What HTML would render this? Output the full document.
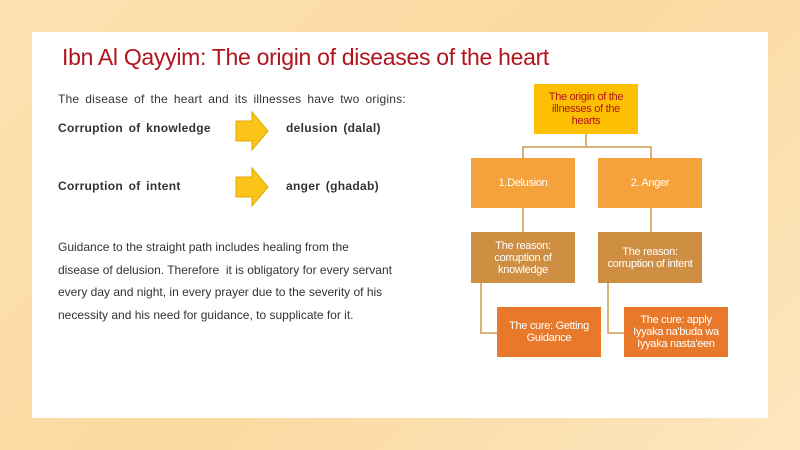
<!DOCTYPE html>
<html><head><style>
body{margin:0;width:800px;height:450px;overflow:hidden;background:linear-gradient(135deg,#fde2b0,#fbd9a0 50%,#fde6bf);font-family:"Liberation Sans",sans-serif;position:relative}
.panel{position:absolute;left:32px;top:32px;width:736px;height:386px;background:#fff}
.t{position:absolute;white-space:nowrap}
.bd{font-size:12px;font-weight:bold;color:#333;letter-spacing:0.3px;word-spacing:2px}
.b{position:absolute;display:flex;align-items:center;justify-content:center;text-align:center;font-size:11px;line-height:12px;color:#fff;letter-spacing:-0.3px}
.l{position:absolute;background:#d9b27a}
.arr{position:absolute;width:34px;height:40px}
</style></head><body>
<div class="panel"></div>
<div class="t" style="left:62px;top:44px;font-size:23px;color:#b0141c;letter-spacing:-0.3px">Ibn Al Qayyim: The origin of diseases of the heart</div>
<div class="t" style="left:58px;top:92px;font-size:12px;color:#333;letter-spacing:0.2px;word-spacing:2.5px">The disease of the heart and its illnesses have two origins:</div>
<div class="t bd" style="left:58px;top:121px">Corruption of knowledge</div>
<div class="t bd" style="left:286px;top:121px">delusion (dalal)</div>
<div class="t bd" style="left:58px;top:179px">Corruption of intent</div>
<div class="t bd" style="left:286px;top:179px">anger (ghadab)</div>
<svg class="arr" style="left:235px;top:111px" viewBox="0 0 34 40"><polygon points="1,10 17,10 17,1 33,20 17,39 17,30 1,30" fill="#fcc419" stroke="#e0a800"/></svg>
<svg class="arr" style="left:235px;top:167px" viewBox="0 0 34 40"><polygon points="1,10 17,10 17,1 33,20 17,39 17,30 1,30" fill="#fcc419" stroke="#e0a800"/></svg>
<div class="t" style="left:58px;top:236px;font-size:12px;line-height:22.5px;color:#333">Guidance to the straight path includes healing from the<br>disease of delusion. Therefore &nbsp;it is obligatory for every servant<br>every day and night, in every prayer due to the severity of his<br>necessity and his need for guidance, to supplicate for it.</div>

<div class="l" style="left:585px;top:134px;width:2px;height:13px"></div>
<div class="l" style="left:522px;top:146px;width:130px;height:2px"></div>
<div class="l" style="left:522px;top:146px;width:2px;height:12px"></div>
<div class="l" style="left:650px;top:146px;width:2px;height:12px"></div>
<div class="l" style="left:522px;top:208px;width:2px;height:24px"></div>
<div class="l" style="left:650px;top:208px;width:2px;height:24px"></div>
<div class="l" style="left:480px;top:283px;width:2px;height:51px"></div>
<div class="l" style="left:480px;top:332px;width:18px;height:2px"></div>
<div class="l" style="left:607px;top:283px;width:2px;height:51px"></div>
<div class="l" style="left:607px;top:332px;width:18px;height:2px"></div>

<div class="b" style="left:534px;top:84px;width:104px;height:50px;background:#fcc000;color:#b0141c">The origin of the<br>illnesses of the<br>hearts</div>
<div class="b" style="left:471px;top:158px;width:104px;height:50px;background:#f4a23c">1.Delusion</div>
<div class="b" style="left:598px;top:158px;width:104px;height:50px;background:#f4a23c">2. Anger</div>
<div class="b" style="left:471px;top:232px;width:104px;height:51px;background:#cf8f42">The reason:<br>corruption of<br>knowledge</div>
<div class="b" style="left:598px;top:232px;width:104px;height:51px;background:#cf8f42">The reason:<br>corruption of intent</div>
<div class="b" style="left:497px;top:307px;width:104px;height:50px;background:#e8792a">The cure: Getting<br>Guidance</div>
<div class="b" style="left:624px;top:307px;width:104px;height:50px;background:#e8792a">The cure: apply<br>Iyyaka na'buda wa<br>Iyyaka nasta'een</div>
</body></html>
